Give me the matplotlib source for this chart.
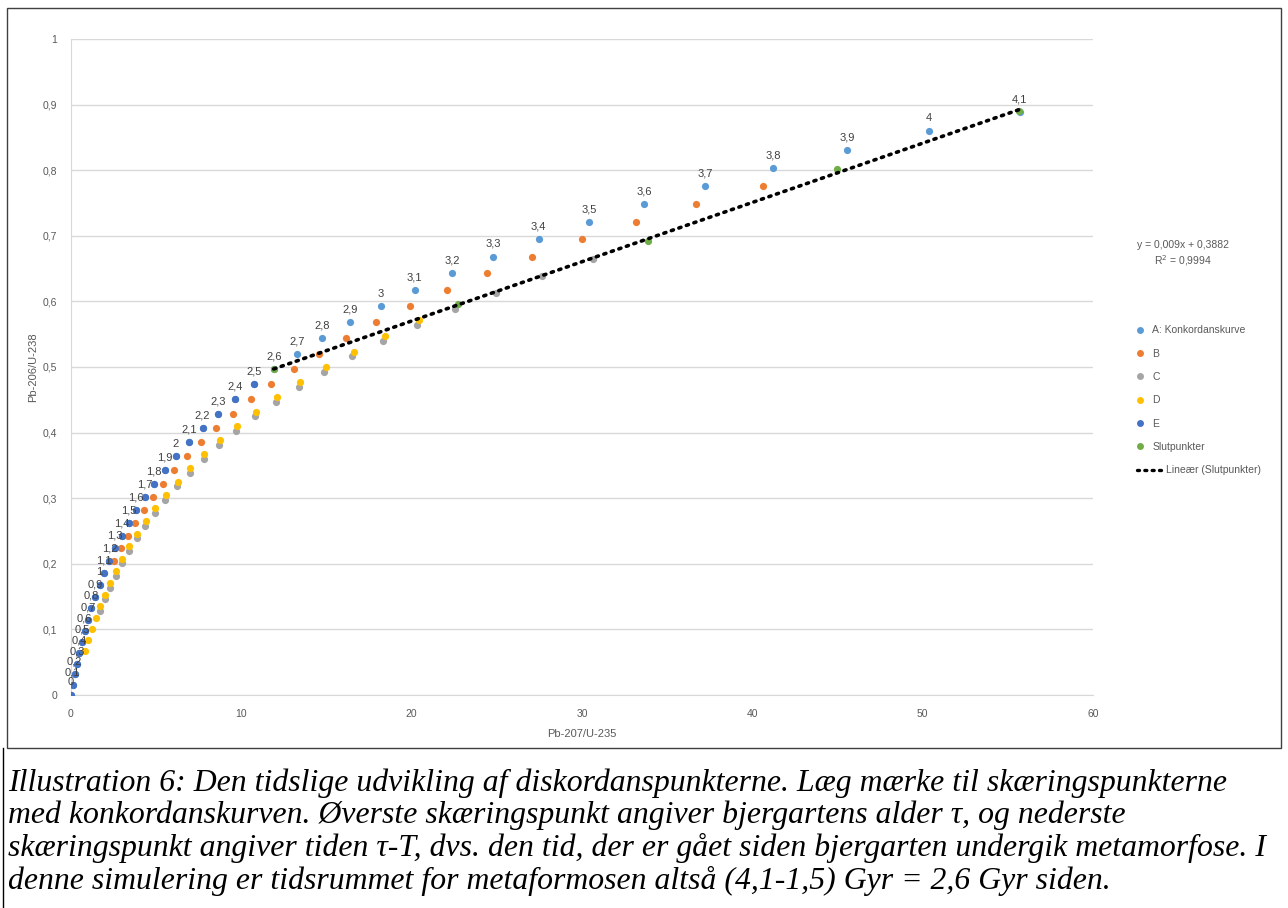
import matplotlib
matplotlib.use("Agg")
import matplotlib.pyplot as plt
from matplotlib.lines import Line2D
from matplotlib.patches import Rectangle
import numpy as np

# A: konkordanskurve, alder 0..4,1 Gyr
alder = [0.0, 0.1, 0.2, 0.3, 0.4, 0.5, 0.6, 0.7, 0.8, 0.9, 1.0, 1.1, 1.2, 1.3,
         1.4, 1.5, 1.6, 1.7, 1.8, 1.9, 2.0, 2.1, 2.2, 2.3, 2.4, 2.5, 2.6, 2.7,
         2.8, 2.9, 3.0, 3.1, 3.2, 3.3, 3.4, 3.5, 3.6, 3.7, 3.8, 3.9, 4.0, 4.1]
A_x = [0.0, 0.104, 0.218, 0.344, 0.483, 0.636, 0.806, 0.993, 1.199, 1.426,
       1.677, 1.955, 2.260, 2.598, 2.970, 3.381, 3.835, 4.335, 4.887, 5.496,
       6.168, 6.910, 7.729, 8.632, 9.629, 10.729, 11.943, 13.282, 14.762,
       16.393, 18.193, 20.180, 22.372, 24.790, 27.460, 30.406, 33.657, 37.244,
       41.203, 45.571, 50.388, 55.706]
A_y = [0.0, 0.0156, 0.0315, 0.0476, 0.0640, 0.0807, 0.0975, 0.1147, 0.1321,
       0.1498, 0.1678, 0.1861, 0.2046, 0.2234, 0.2426, 0.2620, 0.2817, 0.3018,
       0.3221, 0.3428, 0.3638, 0.3851, 0.4068, 0.4287, 0.4511, 0.4738, 0.4968,
       0.5202, 0.5440, 0.5681, 0.5926, 0.6175, 0.6428, 0.6684, 0.6945, 0.7210,
       0.7479, 0.7752, 0.8030, 0.8311, 0.8598, 0.8889]

B_x = [2.549, 2.916, 3.321, 3.768, 4.262, 4.806, 5.407, 6.070, 6.802, 7.610,
       8.500, 9.484, 10.569, 11.766, 13.087, 14.544, 16.155, 17.930, 19.890,
       22.052, 24.438, 27.070, 29.976, 33.182, 36.720, 40.624]
B_y = [0.2046, 0.2234, 0.2426, 0.2620, 0.2817, 0.3018, 0.3221, 0.3428, 0.3638,
       0.3851, 0.4068, 0.4287, 0.4511, 0.4738, 0.4968, 0.5202, 0.5440, 0.5681,
       0.5926, 0.6175, 0.6428, 0.6684, 0.6945, 0.7210, 0.7479, 0.7752]

C_x = [1.696, 1.975, 2.283, 2.623, 2.998, 3.411, 3.868, 4.372, 4.928, 5.541,
       6.218, 6.965, 7.789, 8.699, 9.703, 10.810, 12.033, 13.381, 14.870,
       16.512, 18.326, 20.326, 22.533, 24.969, 27.657, 30.622]
C_y = [0.1281, 0.1458, 0.1638, 0.1821, 0.2006, 0.2194, 0.2386, 0.2580, 0.2777,
       0.2978, 0.3181, 0.3388, 0.3598, 0.3811, 0.4028, 0.4247, 0.4471, 0.4698,
       0.4928, 0.5162, 0.5400, 0.5641, 0.5886, 0.6135, 0.6388, 0.6644]

D_x = [0.827, 1.016, 1.225, 1.455, 1.709, 1.990, 2.299, 2.641, 3.017, 3.433,
       3.892, 4.398, 4.957, 5.573, 6.254, 7.004, 7.833, 8.747, 9.756, 10.869,
       12.097, 13.452, 14.948, 16.598, 18.422, 20.431]
D_y = [0.0670, 0.0837, 0.1005, 0.1177, 0.1351, 0.1528, 0.1708, 0.1891, 0.2076,
       0.2264, 0.2456, 0.2650, 0.2847, 0.3048, 0.3251, 0.3458, 0.3668, 0.3881,
       0.4098, 0.4317, 0.4541, 0.4768, 0.4998, 0.5232, 0.5470, 0.5711]

E_x = A_x[:26]
E_y = A_y[:26]

slut_x = [11.90, 22.72, 33.90, 44.98, 55.65]
slut_y = [0.4970, 0.5955, 0.6915, 0.8020, 0.8895]

farver = {"A": "#5B9BD5", "B": "#ED7D31", "C": "#A5A5A5", "D": "#FFC000",
          "E": "#4472C4", "S": "#70AD47"}

plt.rcParams["font.family"] = ["Liberation Sans", "DejaVu Sans"]

fig = plt.figure(figsize=(12.88, 9.08), dpi=100)
ax = fig.add_axes([71 / 1288, 1 - 695 / 908, 1022 / 1288, 656 / 908])

ms = 5.2
ax.plot(A_x, A_y, "o", color=farver["A"], ms=ms, mec="none", zorder=3)
ax.plot(B_x, B_y, "o", color=farver["B"], ms=ms, mec="none", zorder=3)
ax.plot(C_x, C_y, "o", color=farver["C"], ms=ms, mec="none", zorder=3)
ax.plot(D_x, D_y, "o", color=farver["D"], ms=ms, mec="none", zorder=3)
ax.plot(E_x, E_y, "o", color=farver["E"], ms=ms, mec="none", zorder=3)
ax.plot(slut_x, slut_y, "o", color=farver["S"], ms=ms, mec="none", zorder=3)

# lineaer trendlinje gennem slutpunkterne
k, m = np.polyfit(slut_x, slut_y, 1)
tx = np.array([min(slut_x), max(slut_x)])
prik = (0, (0.6, 1.6))
ax.plot(tx, k * tx + m, color="black", lw=2.6, ls=prik, zorder=4, dash_capstyle="round")

for t, x, y in zip(alder, A_x, A_y):
    lbl = ("%g" % t).replace(".", ",")
    ax.annotate(lbl, (x, y), xytext=(0, 5.5), textcoords="offset points",
                ha="center", va="bottom", fontsize=8, color="#404040", zorder=5)

ax.set_xlim(0, 60)
ax.set_ylim(0, 1)
ax.set_xticks(range(0, 61, 10))
yt = np.round(np.arange(0, 1.01, 0.1), 1)
ax.set_yticks(yt)
ax.set_yticklabels([("%g" % v).replace(".", ",") for v in yt])
ax.grid(axis="y", color="#D9D9D9", lw=1)
ax.set_axisbelow(True)
for s in ["top", "right"]:
    ax.spines[s].set_visible(False)
ax.spines["left"].set_color("#D9D9D9")
ax.spines["bottom"].set_color("#D9D9D9")
ax.tick_params(length=0, labelsize=7.5, labelcolor="#595959", pad=10)
ax.set_xlabel("Pb-207/U-235", fontsize=8, color="#595959", labelpad=7)
ax.set_ylabel("Pb-206/U-238", fontsize=8, color="#595959", labelpad=3)

handles = [Line2D([], [], ls="none", marker="o", ms=5, mec="none", color=farver[c])
           for c in ["A", "B", "C", "D", "E", "S"]]
labels = ["A: Konkordanskurve", "B", "C", "D", "E", "Slutpunkter"]
fig.legend(handles, labels, loc="upper left", bbox_to_anchor=(1122 / 1288, 1 - 316 / 908),
           frameon=False, fontsize=7.5, labelcolor="#595959", labelspacing=1.28,
           handlelength=1.6, handletextpad=0.4)
fig.legend([Line2D([], [], color="black", lw=2.4, ls=prik, dash_capstyle="round")],
           ["Lineær (Slutpunkter)"], loc="upper left",
           bbox_to_anchor=(1128 / 1288, 1 - 456 / 908), frameon=False, fontsize=7.5,
           labelcolor="#595959", handlelength=2.6, handletextpad=0.1)

fig.text(1183 / 1288, 1 - 245 / 908, "y = 0,009x + 0,3882", ha="center", va="center",
         fontsize=7.5, color="#595959")
fig.text(1183 / 1288, 1 - 261 / 908, "R$^2$ = 0,9994", ha="center", va="center",
         fontsize=7.5, color="#595959")

# ramme om diagrammet
fig.patches.append(Rectangle((7 / 1288, 1 - 748 / 908), 1274 / 1288, 740 / 908,
                             transform=fig.transFigure, fill=False, ec="#404040", lw=1))
fig.lines.append(Line2D([3 / 1288, 3 / 1288], [0, 1 - 748 / 908], transform=fig.transFigure,
                        color="black", lw=1))

tekst = ["Illustration 6: Den tidslige udvikling af diskordanspunkterne. Læg mærke til skæringspunkterne",
         "med konkordanskurven. Øverste skæringspunkt angiver bjergartens alder τ, og nederste",
         "skæringspunkt angiver tiden τ-T, dvs. den tid, der er gået siden bjergarten undergik metamorfose. I",
         "denne simulering er tidsrummet for metaformosen altså (4,1-1,5) Gyr = 2,6 Gyr siden."]
for i, linje in enumerate(tekst):
    fig.text(8 / 1288, 1 - (783 + i * 32.7) / 908, linje, ha="left", va="center",
             fontsize=22.9, style="italic", family=["Liberation Serif", "DejaVu Serif"])

fig.savefig("out.png", dpi=100)
